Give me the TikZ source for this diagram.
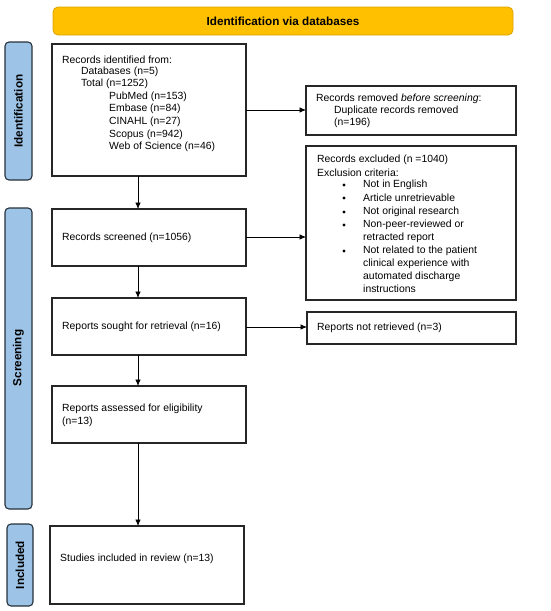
\documentclass[tikz,border=0pt]{standalone}
\usepackage{fontspec}
\setmainfont{Liberation Sans}
\usetikzlibrary{arrows.meta}
\definecolor{hdrfill}{HTML}{FFC000}
\definecolor{hdrdraw}{HTML}{D9A300}
\definecolor{sidefill}{HTML}{9DC3E6}
\definecolor{sidedraw}{HTML}{26313C}
\begin{document}
\begin{tikzpicture}[x=1pt,y=-1pt,
  box/.style={draw=black!85,line width=1.1pt,fill=white},
  side/.style={draw=sidedraw,line width=1.1pt,fill=sidefill,rounded corners=4pt},
  sidetxt/.style={font=\fontsize{11.7}{13}\selectfont\bfseries,rotate=90,inner sep=0pt},
  txt/.style={font=\fontsize{10.4}{12.5}\selectfont,anchor=west,inner sep=0pt},
  arr/.style={-{Latex[length=6.5pt,width=5.5pt]},line width=0.7pt}]
\useasboundingbox (0,0) rectangle (550,611);
% header
\draw[draw=hdrdraw,fill=hdrfill,line width=0.8pt,rounded corners=5pt] (53,7) rectangle (513,35);
\node[font=\fontsize{11.7}{13}\selectfont\bfseries] (hdr) at (283,21) {Identification via databases};
% side bars
\draw[side] (5,42) rectangle (32,180);
\node[sidetxt] (sid) at (18.5,111) {Identification};
\draw[side] (5,208) rectangle (32,509);
\node[sidetxt] (sscr) at (18.5,358) {Screening};
\draw[side] (7,524) rectangle (33,606);
\node[sidetxt] (sinc) at (20,565) {Included};
% boxes
\draw[box] (52,44) rectangle (246,176);
\node[txt] (t1a) at (62,60) {Records identified from:};
\node[txt] (t1b) at (81,72) {Databases (n=5)};
\node[txt] (t1c) at (81,84) {Total (n=1252)};
\node[txt] (t1d) at (109,97) {PubMed (n=153)};
\node[txt] (t1e) at (109,109) {Embase (n=84)};
\node[txt] (t1f) at (109,122) {CINAHL (n=27)};
\node[txt] (t1g) at (109,135) {Scopus (n=942)};
\node[txt] (t1h) at (109,147) {Web of Science (n=46)};

\draw[box] (306,86) rectangle (516,135);
\node[txt] (t2a) at (316,99) {Records removed \textit{before screening}:};
\node[txt] (t2b) at (334,111) {Duplicate records removed};
\node[txt] (t2c) at (334,123) {(n=196)};

\draw[box] (306,146) rectangle (516,300);
\node[txt] (t3a) at (317,160) {Records excluded (n =1040)};
\node[txt] (t3b) at (317,173) {Exclusion criteria:};
\foreach \yy/\tt in {185/Not in English,198/Article unretrievable,212/Not original research,225/Non-peer-reviewed or,238/retracted report,251/Not related to the patient,264/clinical experience with,277/automated discharge,289/instructions}{
  \node[txt] at (363,\yy) {\tt};
}
\foreach \yy in {185,198,212,225,251}{
  \fill (344,\yy) circle (1.6pt);
}

\draw[box] (52,209) rectangle (246,266);
\node[txt] (t4) at (62,238) {Records screened (n=1056)};

\draw[box] (52,298) rectangle (246,355);
\node[txt] (t5) at (62,327) {Reports sought for retrieval (n=16)};

\draw[box] (307,312) rectangle (516,344);
\node[txt] (t6) at (317,328) {Reports not retrieved (n=3)};

\draw[box] (52,386) rectangle (246,443);
\node[txt] (t7a) at (62,409) {Reports assessed for eligibility};
\node[txt] (t7b) at (62,422) {(n=13)};

\draw[box] (50,526) rectangle (244,604);
\node[txt] (t8) at (60,559) {Studies included in review (n=13)};

% connector end points
\coordinate (c1s) at (138,176);
\coordinate (c2n) at (138,209);
\coordinate (c2s) at (138,266);
\coordinate (c3n) at (138,298);
\coordinate (c3s) at (138,355);
\coordinate (c4n) at (138,386);
\coordinate (c4s) at (138,443);
\coordinate (c5n) at (138,526);
\coordinate (e1a) at (246,110);
\coordinate (e1b) at (306,110);
\coordinate (e2a) at (246,237);
\coordinate (e2b) at (306,237);
\coordinate (e3a) at (246,327);
\coordinate (e3b) at (307,327);
\draw[arr] (c1s) -- (c2n);
\draw[arr] (c2s) -- (c3n);
\draw[arr] (c3s) -- (c4n);
\draw[arr] (c4s) -- (c5n);
\draw[arr] (e1a) -- (e1b);
\draw[arr] (e2a) -- (e2b);
\draw[arr] (e3a) -- (e3b);
\end{tikzpicture}
\end{document}
